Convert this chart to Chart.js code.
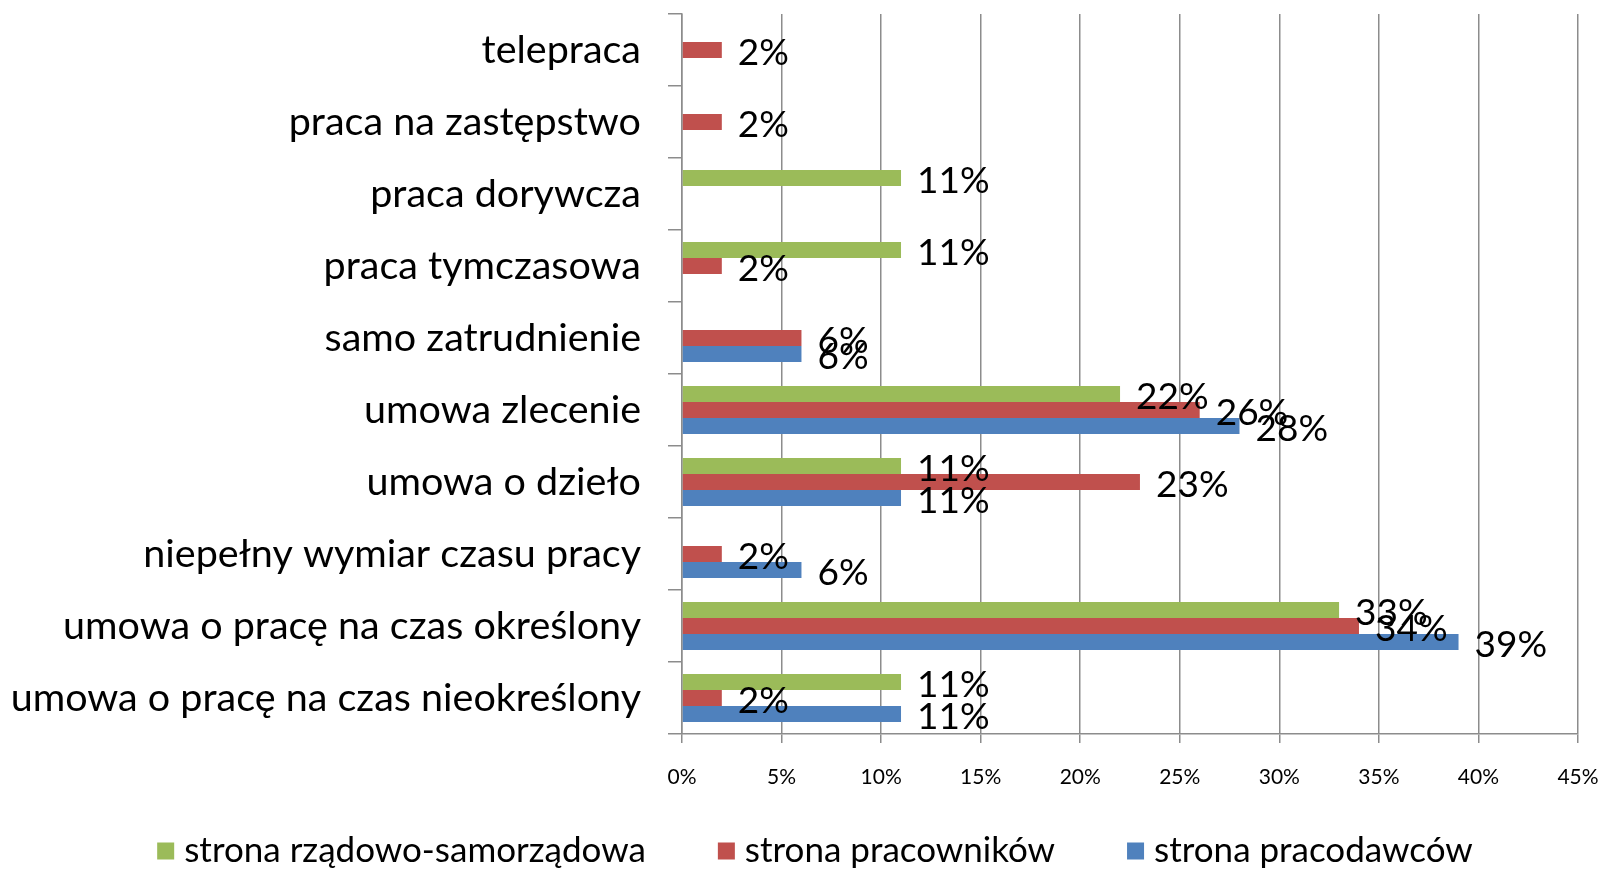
<!DOCTYPE html>
<html>
<head>
<meta charset="utf-8">
<script src="https://cdn.jsdelivr.net/npm/chart.js@4"></script>
<style>
  html, body { margin: 0; padding: 0; background: #fff; }
  #wrap { width: 1604px; height: 870px; }
</style>
</head>
<body>
<div id="wrap"><canvas id="formyCht" width="1604" height="870"></canvas></div>
<script>
let categories = [
    'telepraca',
    'praca na zastępstwo',
    'praca dorywcza',
    'praca tymczasowa',
    'samo zatrudnienie',
    'umowa zlecenie',
    'umowa o dzieło',
    'niepełny wymiar czasu pracy',
    'umowa o pracę na czas określony',
    'umowa o pracę na czas nieokreślony'
];
let rzadowaVals = [null, null, 11, 11, null, 22, 11, null, 33, 11];
let pracownikowVals = [2, 2, null, 2, 6, 26, 23, 2, 34, 2];
let pracodawcowVals = [null, null, null, null, 6, 28, 11, 6, 39, 11];
let tickVals = [0, 5, 10, 15, 20, 25, 30, 35, 40, 45];

let seriesNames = ['strona rządowo-samorządowa', 'strona pracowników', 'strona pracodawców'];
let seriesColors = ['#9BBB59', '#C0504D', '#4F81BD'];

let mainFont = 'Lato, "Open Sans", sans-serif';

// value labels next to the end of each bar
var valueLabels = {
    id: 'valueLabels',
    afterDatasetsDraw: function(chart) {
        var ctx = chart.ctx;
        ctx.save();
        ctx.font = '37px ' + mainFont;
        ctx.fillStyle = '#000';
        ctx.textAlign = 'left';
        ctx.textBaseline = 'middle';
        chart.data.datasets.forEach(function(ds, i) {
            var meta = chart.getDatasetMeta(i);
            meta.data.forEach(function(el, j) {
                if (ds.data[j] === null) return;
                ctx.fillText(ds.data[j] + '%', el.x + 16, el.y + 3);
            });
        });
        ctx.restore();
    }
};

// legend under the axis, drawn from the datasets
var bottomLegend = {
    id: 'bottomLegend',
    afterDraw: function(chart) {
        var ctx = chart.ctx;
        ctx.save();
        ctx.font = '35px ' + mainFont;
        ctx.textBaseline = 'middle';
        var box = 17, gap = 10, space = 72;
        var widths = chart.data.datasets.map(function(ds) {
            return box + gap + ctx.measureText(ds.label).width;
        });
        var total = widths.reduce(function(a, b) { return a + b; }, 0) + space * (widths.length - 1);
        var x = chart.width / 2 + 13 - total / 2;
        var y = 851;
        chart.data.datasets.forEach(function(ds, i) {
            ctx.fillStyle = ds.backgroundColor;
            ctx.fillRect(x, y - box / 2, box, box);
            ctx.fillStyle = '#000';
            ctx.fillText(ds.label, x + box + gap, y);
            x += widths[i] + space;
        });
        ctx.restore();
    }
};

var ctx = document.getElementById('formyCht');
var formyChart = new Chart(ctx, {
    type: 'bar',
    data: {
        labels: categories,
        datasets: [{
            label: seriesNames[0],
            data: rzadowaVals,
            backgroundColor: seriesColors[0]
        }, {
            label: seriesNames[1],
            data: pracownikowVals,
            backgroundColor: seriesColors[1]
        }, {
            label: seriesNames[2],
            data: pracodawcowVals,
            backgroundColor: seriesColors[2]
        }]
    },
    options: {
        indexAxis: 'y',
        responsive: false,
        animation: false,
        categoryPercentage: 0.667,
        barPercentage: 1.0,
        layout: {
            padding: { top: 14, right: 26, bottom: 0, left: 0 }
        },
        plugins: {
            legend: { display: false },
            tooltip: { enabled: false }
        },
        scales: {
            x: {
                min: 0,
                max: 45,
                afterBuildTicks: function(scale) {
                    scale.ticks = tickVals.map(function(v) { return { value: v }; });
                },
                afterFit: function(scale) {
                    scale.height = 136;
                    scale.paddingLeft = 0;
                    scale.paddingRight = 0;
                },
                ticks: {
                    padding: 22,
                    color: '#000',
                    font: { family: mainFont, size: 21 },
                    callback: function(v) { return v + '%'; }
                },
                grid: {
                    color: '#8C8C8C',
                    lineWidth: 1.5,
                    tickLength: 9
                },
                border: { color: '#8C8C8C', width: 1.5 }
            },
            y: {
                afterFit: function(scale) {
                    scale.width = 682;
                    scale.paddingTop = 0;
                    scale.paddingBottom = 0;
                },
                ticks: {
                    padding: 27,
                    color: '#000',
                    font: { family: mainFont, size: 39.5 }
                },
                grid: {
                    offset: true,
                    drawOnChartArea: false,
                    color: '#8C8C8C',
                    lineWidth: 1.5,
                    tickLength: 14
                },
                border: { color: '#8C8C8C', width: 1.5 }
            }
        }
    },
    plugins: [valueLabels, bottomLegend]
});
</script>
</body>
</html>
